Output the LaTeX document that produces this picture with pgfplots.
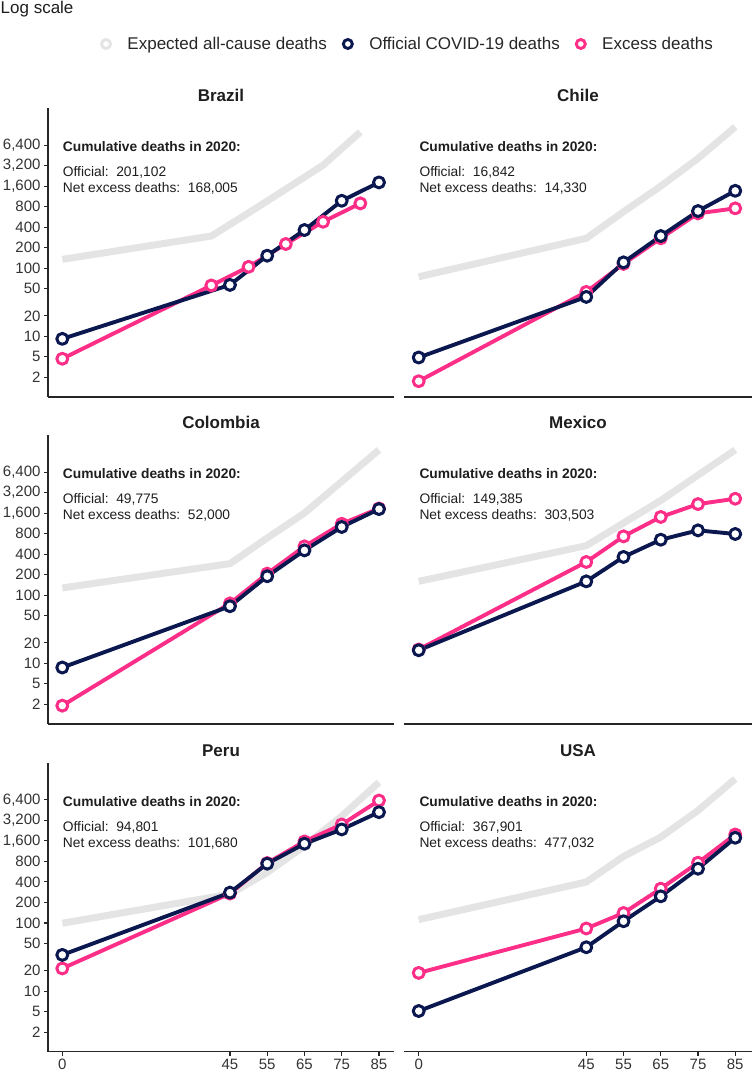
\documentclass[border=0pt]{standalone}
\usepackage{fontspec}
\setmainfont{Liberation Sans}
\usepackage{pgfplots}
\usepackage{pgfplotstable}
\pgfplotsset{compat=1.18}
\definecolor{navy}{RGB}{11,24,80}
\definecolor{hotpink}{RGB}{252,46,136}
\definecolor{expgray}{RGB}{228,228,228}
\definecolor{txt}{RGB}{30,30,30}

\pgfplotstableread{
ageO off ageE exc expd
0 9.2 0 4.7 135
45 57 40 56 297
55 153 50 105 650
65 364 60 227 1450
75 978 70 481 3260
85 1820 80 896 10000
}\brazil
\pgfplotstableread{
ageO off ageE exc expd
0 4.9 0 2.2 75
45 38 45 45 275
55 122 55 116 675
65 297 65 275 1605
75 691 75 639 4090
85 1370 85 757 11870
}\chile
\pgfplotstableread{
ageO off ageE exc expd
0 8.7 0 2.4 128
45 69 45 76 291
55 190 55 208 693
65 456 65 522 1610
75 1005 75 1120 4680
85 1840 85 1880 13600
}\colombia
\pgfplotstableread{
ageO off ageE exc expd
0 15.6 0 16 160
45 160 45 308 534
55 365 55 732 1150
65 654 65 1410 2460
75 896 75 2180 5800
85 793 85 2610 13600
}\mexico
\pgfplotstableread{
ageO off ageE exc expd
0 34 0 21.5 99
45 279 45 270 265
55 742 55 757 550
65 1456 65 1574 1350
75 2360 75 2790 3700
85 4230 85 6270 11600
}\peru
\pgfplotstableread{
ageO off ageE exc expd
0 5.1 0 18.5 112
45 44 45 83 399
55 106 55 140 949
65 246 65 319 1820
75 626 75 767 4470
85 1780 85 1990 13000
}\usa

\pgfplotsset{
 /pgf/number format/assume math mode=true,
 cdexp/.style={expgray, line width=7pt, no markers, forget plot},
 cdoff/.style={navy, line width=3.9pt, line join=round, mark=*, mark size=5.5pt,
   mark options={fill=white, draw=navy, line width=3pt, solid}, forget plot},
 cdexc/.style={hotpink, line width=3.9pt, line join=round, mark=*, mark size=5.5pt,
   mark options={fill=white, draw=hotpink, line width=3pt, solid}, forget plot},
 cdcommon/.style={
  scale only axis, height=289pt, anchor=south west,
  ymin=1.29, ymax=22500, clip=false,
  axis x line*=bottom,
  axis line style={line width=1.1pt, black!85},
  tick style={line width=1.1pt, black!85},
  major tick length=4pt, tick align=outside,
  minor tick num=0,
  tick label style={font=\fontsize{15}{15}\selectfont, text=black!80},
  title style={at={(0.5,1)}, anchor=base, yshift=0pt, inner sep=0pt,
    font=\fontsize{17}{17}\selectfont\bfseries, text=txt},
 },
 cdleft/.style={cdcommon, width=346pt, xmin=-3.84, xmax=89.03,
  axis y line*=left,
  ytick={2.5,5,10,20,50,100,200,400,800,1600,3200,6400},
  yticklabels={2,5,10,20,50,100,200,400,800,{1,600},{3,200},{6,400}}},
 cdright/.style={cdcommon, width=348pt, xmin=-3.95, xmax=89.5,
  axis y line=none, ytick=\empty},
 cdbottom/.style={xtick={0,45,55,65,75,85}, xticklabels={0,45,55,65,75,85}},
 cdnox/.style={xtick=\empty},
}

\newcommand{\annot}[3]{%
 \node[anchor=base west, inner sep=0pt, font=\fontsize{13.8}{13.8}\selectfont\bfseries, text=txt] at (rel axis cs:#1,0.8488) {Cumulative deaths in 2020:};
 \node[anchor=base west, inner sep=0pt, font=\fontsize{13.8}{13.8}\selectfont, text=txt] at (rel axis cs:#1,0.7623) {Official:\ \ #2};
 \node[anchor=base west, inner sep=0pt, font=\fontsize{13.8}{13.8}\selectfont, text=txt] at (rel axis cs:#1,0.7083) {Net excess deaths:\ \ #3};
}

\begin{document}
\begin{tikzpicture}
\useasboundingbox (0pt,0pt) rectangle (752pt,1071pt);
\node[anchor=base west, inner sep=0pt, font=\fontsize{17}{17}\selectfont, text=txt] at (0.5pt,1057.6pt) {Log scale};

% Brazil
\begin{axis}[ymode=log, cdleft, cdnox, at={(48pt,674pt)}, title={Brazil},
  legend columns=3,
  legend style={at={(0.1500,1.2215)}, anchor=west, draw=none, fill=none, inner sep=0pt,
    font=\fontsize{17}{17}\selectfont, text=black!85,
    /tikz/every even column/.append style={column sep=13pt}},
  legend image code/.code={\draw[#1] (0pt,0pt) circle (4.5pt); \path (18pt,0pt);},
]
\addlegendimage{draw=expgray, line width=2.9pt, fill=white}
\addlegendentry{Expected all-cause deaths}
\addlegendimage{draw=navy, line width=2.9pt, fill=white}
\addlegendentry{Official COVID-19 deaths}
\addlegendimage{draw=hotpink, line width=2.9pt, fill=white}
\addlegendentry{Excess deaths}
\addplot[cdexp] table[x=ageE, y=expd] {\brazil};
\addplot[cdexc] table[x=ageE, y=exc] {\brazil};
\addplot[cdoff] table[x=ageO, y=off] {\brazil};
\annot{0.0425}{201,102}{168,005}
\end{axis}

% Chile
\begin{axis}[ymode=log, cdright, cdnox, at={(404pt,674pt)}, title={Chile}]
\addplot[cdexp] table[x=ageE, y=expd] {\chile};
\addplot[cdexc] table[x=ageE, y=exc] {\chile};
\addplot[cdoff] table[x=ageO, y=off] {\chile};
\annot{0.044}{16,842}{14,330}
\end{axis}

% Colombia
\begin{axis}[ymode=log, cdleft, cdnox, at={(48pt,347pt)}, title={Colombia}]
\addplot[cdexp] table[x=ageE, y=expd] {\colombia};
\addplot[cdexc] table[x=ageE, y=exc] {\colombia};
\addplot[cdoff] table[x=ageO, y=off] {\colombia};
\annot{0.0425}{49,775}{52,000}
\end{axis}

% Mexico
\begin{axis}[ymode=log, cdright, cdnox, at={(404pt,347pt)}, title={Mexico}]
\addplot[cdexp] table[x=ageE, y=expd] {\mexico};
\addplot[cdexc] table[x=ageE, y=exc] {\mexico};
\addplot[cdoff] table[x=ageO, y=off] {\mexico};
\annot{0.044}{149,385}{303,503}
\end{axis}

% Peru
\begin{axis}[ymode=log, cdleft, cdbottom, at={(48pt,19.3pt)}, title={Peru}]
\addplot[cdexp] table[x=ageE, y=expd] {\peru};
\addplot[cdexc] table[x=ageE, y=exc] {\peru};
\addplot[cdoff] table[x=ageO, y=off] {\peru};
\annot{0.0425}{94,801}{101,680}
\end{axis}

% USA
\begin{axis}[ymode=log, cdright, cdbottom, at={(404pt,19.3pt)}, title={USA}]
\addplot[cdexp] table[x=ageE, y=expd] {\usa};
\addplot[cdexc] table[x=ageE, y=exc] {\usa};
\addplot[cdoff] table[x=ageO, y=off] {\usa};
\annot{0.044}{367,901}{477,032}
\end{axis}
\end{tikzpicture}
\end{document}
